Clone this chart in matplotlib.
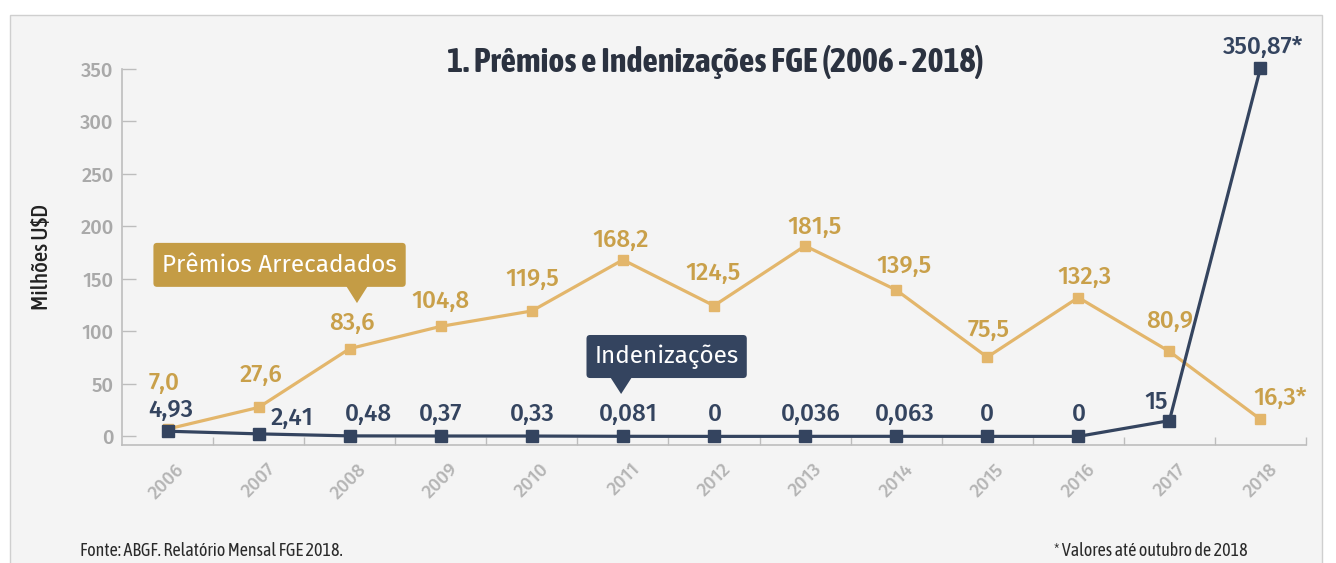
import matplotlib
matplotlib.use("Agg")
import matplotlib.pyplot as plt
from matplotlib.patches import FancyBboxPatch, Polygon, Rectangle
from matplotlib.transforms import ScaledTranslation

# Data
years = ["2006", "2007", "2008", "2009", "2010", "2011", "2012",
         "2013", "2014", "2015", "2016", "2017", "2018"]
premios = [7.0, 27.6, 83.6, 104.8, 119.5, 168.2, 124.5, 181.5, 139.5, 75.5, 132.3, 80.9, 16.3]
premios_labels = ["7,0", "27,6", "83,6", "104,8", "119,5", "168,2", "124,5",
                  "181,5", "139,5", "75,5", "132,3", "80,9", "16,3*"]
indenizacoes = [4.93, 2.41, 0.48, 0.37, 0.33, 0.081, 0, 0.036, 0.063, 0, 0, 15, 350.87]
indenizacoes_labels = ["4,93", "2,41", "0,48", "0,37", "0,33", "0,081", "0",
                       "0,036", "0,063", "0", "0", "15", "350,87*"]
yticks = [0, 50, 100, 150, 200, 250, 300, 350]

# label offsets in pixels (dx, dy) relative to each point
premios_off = [(-3, 46), (2, 32), (2, 25), (0, 25), (0, 32), (-2, 20), (-1, 32),
               (9, 19), (8, 24), (1, 27), (6, 20), (0, 30), (-7, 21)]
indeniz_off = [(3, 21), (33, 16), (19, 22), (0, 22), (0, 22), (5, 22), (1, 22),
               (6, 22), (9, 22), (0, 22), (1, 22), (-2, 18), (3, 21)]

GOLD_LINE = "#e3b66b"
GOLD_TEXT = "#c9a04a"
GOLD_BOX = "#c49c45"
NAVY = "#34445f"
GRAY = "#a9a9a9"
BG = "#f4f4f4"

LABEL_FONT = ["Fira Sans", "Open Sans", "DejaVu Sans"]
NARROW_FONT = ["Asap Condensed", "Archivo Narrow", "DejaVu Sans"]

fig = plt.figure(figsize=(13.36, 5.63), dpi=100, facecolor="white")
# light gray panel with a thin border
fig.patches.append(Rectangle((10 / 1336, -0.05), 1312 / 1336, 1.05 - 15 / 563,
                             transform=fig.transFigure, facecolor=BG,
                             edgecolor="#cfcfcf", linewidth=1, zorder=-10))

ax = fig.add_axes([122 / 1336, 118 / 563, 1184 / 1336, 376 / 563])
ax.set_facecolor("none")
x = list(range(len(years)))

ax.plot(x, premios, color=GOLD_LINE, linewidth=2.3, marker="s", markersize=7.5,
        zorder=3, clip_on=False)
ax.plot(x, indenizacoes, color=NAVY, linewidth=2.3, marker="s", markersize=8,
        zorder=4, clip_on=False)

for i in x:
    dx, dy = premios_off[i]
    ha = "left" if i == 12 else "center"
    ax.annotate(premios_labels[i], (i, premios[i]), xytext=(dx, dy),
                textcoords="offset pixels", ha=ha, va="center", fontsize=17.5,
                color=GOLD_TEXT, fontweight="medium", family=LABEL_FONT, zorder=5,
                annotation_clip=False)
    dx, dy = indeniz_off[i]
    ha = "right" if i == 11 else "center"
    ax.annotate(indenizacoes_labels[i], (i, indenizacoes[i]), xytext=(dx, dy),
                textcoords="offset pixels", ha=ha, va="center", fontsize=17.5,
                color=NAVY, fontweight="medium", family=LABEL_FONT, zorder=5,
                annotation_clip=False)

ax.set_xlim(-0.5, 12.5)
ax.set_ylim(-8.2, 350)

for side in ["top", "right"]:
    ax.spines[side].set_visible(False)
for side in ["left", "bottom"]:
    ax.spines[side].set_color("#bdbdbd")
    ax.spines[side].set_linewidth(1.2)

ax.set_yticks(yticks)
ax.set_yticklabels([str(v) for v in yticks], fontsize=14.5, color=GRAY,
                   fontweight="medium", family=LABEL_FONT)
ax.tick_params(axis="y", direction="in", length=10, width=1, color="#bdbdbd", pad=6)

ax.set_xticks(x)
ax.set_xticklabels(years, rotation=45, ha="right", rotation_mode="anchor",
                   fontsize=13.5, color="#b5b5b5", fontweight="medium", family=LABEL_FONT)
ax.tick_params(axis="x", length=0, pad=11)
shift = ScaledTranslation(8 / 100, 0, fig.dpi_scale_trans)
for lab in ax.get_xticklabels():
    lab.set_transform(lab.get_transform() + shift)
ax.set_xticks([i - 0.5 for i in range(1, 14)], minor=True)
ax.tick_params(axis="x", which="minor", direction="in", length=6, width=1, color="#bdbdbd")

ax.set_ylabel("Milhões U$D", fontsize=16.5, color="#222222", family=NARROW_FONT,
              fontweight="medium", labelpad=20)

# callout boxes
def callout(cx, cy, w, h, tipx, tipy, text, color):
    box = FancyBboxPatch((cx - w / 2, cy - h / 2), w, h,
                         boxstyle="round,pad=0,rounding_size=0.04",
                         mutation_aspect=87, facecolor=color, edgecolor="none",
                         zorder=6, clip_on=False)
    ax.add_patch(box)
    tri = Polygon([(tipx - 0.12, cy - h / 2 + 1), (tipx + 0.12, cy - h / 2 + 1), (tipx, tipy)],
                  closed=True, facecolor=color, edgecolor="none", zorder=6, clip_on=False)
    ax.add_patch(tri)
    ax.text(cx, cy, text, ha="center", va="center", fontsize=17.5, color="white",
            family=LABEL_FONT, zorder=7)

callout(1.23, 163.4, 2.77, 41.9, 2.08, 127, "Prêmios Arrecadados", GOLD_BOX)
callout(5.48, 76.1, 1.76, 41.0, 4.98, 40.4, "Indenizações", NAVY)

fig.text(715 / 1336, 1 - 62 / 563, "1. Prêmios e Indenizações FGE (2006 - 2018)",
         ha="center", va="center", fontsize=24.5, fontweight="bold", color="#2b3240",
         family=NARROW_FONT)
fig.text(80 / 1336, 1 - 551 / 563, "Fonte: ABGF. Relatório Mensal FGE 2018.",
         ha="left", va="center", fontsize=13, color="#2a2a2a", family=NARROW_FONT)
fig.text(1248 / 1336, 1 - 551 / 563, "* Valores até outubro de 2018",
         ha="right", va="center", fontsize=13, color="#2a2a2a", family=NARROW_FONT)

fig.savefig("out.png", dpi=100, facecolor="white")
